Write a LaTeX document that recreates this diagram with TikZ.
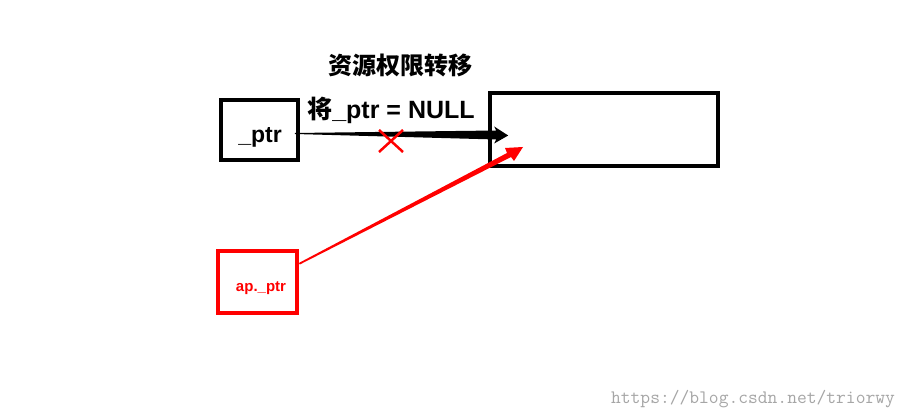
\documentclass[tikz,border=0pt]{standalone}
\usepackage{fontspec}
\setmainfont{Liberation Sans}
\newfontfamily\cjk{Noto Sans CJK SC}
\usetikzlibrary{calc,arrows.meta}
\begin{document}
\begin{tikzpicture}[x=1pt,y=-1pt,
  box/.style={draw=black,line width=3.6pt,minimum width=#1,inner sep=0pt},
  lbl/.style={font=\bfseries\fontsize{23}{23}\selectfont}]
\useasboundingbox (0,0) rectangle (909,419);
\fill[white] (0,0) rectangle (909,419);
\node[box=77pt,minimum height=60pt,lbl] (p) at (259.5,130) {};
\node[lbl] (pt) at (260,137) {\_ptr};
\node[box=228pt,minimum height=73pt] (b) at (604,129.5) {};
\node[box=79pt,minimum height=62pt,draw=red] (a) at (257.5,282) {};
\node[text=red,font=\bfseries\fontsize{15}{15}\selectfont] (at) at (261,288) {ap.\_ptr};
\node[font=\cjk\bfseries\fontsize{24}{24}\selectfont] (t) at (400,65) {资源权限转移};
\node[font=\bfseries\fontsize{25}{25}\selectfont] (n) at (391,110) {{\cjk 将}\_ptr = NULL};
% black tapered arrow
\coordinate (s) at ($(p.east)+(-5,3)$);
\coordinate (e) at ($(b.west)+(20,6)$);
\fill[black] (s) -- ($(e)+(-12,-5)$) -- ($(e)+(-14,-9)$) -- (e) -- ($(e)+(-14,8)$) -- ($(e)+(-12,4)$) -- ($(s)+(0,1)$) -- cycle;
% red tapered arrow
\coordinate (rs) at ($(a.east)+(0,-19)$);
\coordinate (re) at (523,147);
\fill[red] (rs) -- ($(re)+(-16,6)$) -- ($(re)+(-18,1)$) -- (re) -- ($(re)+(-9,14)$) -- ($(re)+(-12,10)$) -- ($(rs)+(1,1.5)$) -- cycle;
% cross
\node (x) at (391,141) {};
\draw[red,line width=2.5pt] ($(x)+(-12,-11)$) -- ($(x)+(12,11)$) ($(x)+(12,-11)$) -- ($(x)+(-12,11)$);
\node[text=gray!70,font=\ttfamily\fontsize{19}{19}\selectfont] (w) at (753,399) {https://blog.csdn.net/triorwy};
\end{tikzpicture}
\end{document}
